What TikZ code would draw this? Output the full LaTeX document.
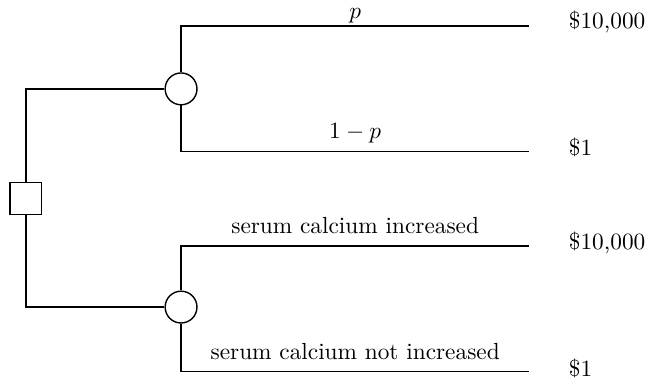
\documentclass[tikz,border=0pt]{standalone}
\usepackage{amsmath}
\usepackage{xcolor}
\usepackage{tikz}
\usetikzlibrary{arrows.meta, positioning, shapes.geometric, calc}

\begin{document}
\begin{tikzpicture}[line width=0.6pt,
    decision/.style={draw, rectangle, minimum size=0.48cm, inner sep=0pt},
    chance/.style={draw, circle, minimum size=0.48cm, inner sep=0pt},
    payoff/.style={right=0.47cm of #1, yshift=1.5pt},
    branchlabel/.style={pos=0.75, above=#1, inner sep=0pt, text depth=2pt},
    branchlabel/.default=3pt]
      \useasboundingbox (0,0) rectangle (9.74,-5.75);
      \node[decision] (dec) at (0.39,-2.99) {};
      \node[chance] (ch1) at (2.73,-1.34) {};
      \node[chance] (ch2) at (2.73,-4.63) {};
      \foreach \n/\y/\v in {1/-0.39/\$10{,}000, 2/-2.28/\$1, 3/-3.71/\$10{,}000, 4/-5.60/\$1} {
        \coordinate (end\n) at (7.98,\y);
        \node[payoff=end\n] (pay\n) {\v};
      }
      \draw (dec.north) |- (ch1.west);
      \draw (dec.south) |- (ch2.west);
      \draw (ch1.north) |- (end1) node[branchlabel=1pt] (lab1) {$p$};
      \draw (ch1.south) |- (end2) node[branchlabel] (lab2) {$1-p$};
      \draw (ch2.north) |- (end3) node[branchlabel] (lab3) {serum calcium increased};
      \draw (ch2.south) |- (end4) node[branchlabel] (lab4) {serum calcium not increased};
    \end{tikzpicture}
\end{document}
